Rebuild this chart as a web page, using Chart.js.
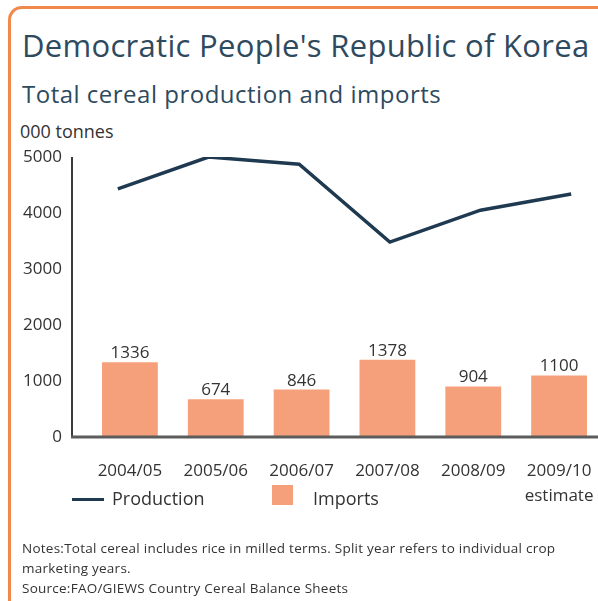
<!DOCTYPE html>
<html>
<head>
<meta charset="utf-8">
<script src="https://cdn.jsdelivr.net/npm/chart.js@4.4.1/dist/chart.umd.min.js"></script>
<style>
  body { margin: 0; width: 598px; height: 601px; overflow: hidden; background: #fff; position: relative; font-family: "Open Sans", sans-serif; color: #333; }
  .abs { position: absolute; white-space: nowrap; }
  #frame { left: 8px; top: 6px; width: 700px; height: 700px; border-left: 3px solid #F08A4B; border-top: 3px solid #F08A4B; border-top-left-radius: 14px; box-sizing: border-box; }
  #title { left: 22px; top: 25px; font-size: 31px; line-height: 40px; letter-spacing: 0.3px; color: #2E4A5E; }
  #subtitle { left: 22px; top: 79px; font-size: 24px; line-height: 30px; letter-spacing: 0.5px; color: #2E4A5E; }
  #unit { left: 20px; top: 120px; font-size: 18px; line-height: 22px; color: #333; }
  #chart { position: absolute; left: 0; top: 0; }
  .leg { font-size: 18px; line-height: 24px; top: 486px; color: #333; }
  #notes { left: 22px; top: 538px; font-size: 13.5px; line-height: 20px; letter-spacing: 0.25px; color: #333; }
</style>
</head>
<body>
<div id="frame" class="abs"></div>
<div id="title" class="abs">Democratic People's Republic of Korea</div>
<div id="subtitle" class="abs">Total cereal production and imports</div>
<div id="unit" class="abs">000 tonnes</div>
<canvas id="chart" width="620" height="601"></canvas>
<div class="abs" style="left:72px;top:498px;width:32px;height:3px;background:#1F3A50"></div>
<div class="abs leg" style="left:112px">Production</div>
<div class="abs" style="left:272px;top:485px;width:21px;height:20px;background:#F5A07A"></div>
<div class="abs leg" style="left:313px">Imports</div>
<div id="notes" class="abs">Notes:Total cereal includes rice in milled terms. Split year refers to individual crop<br>marketing years.<br>Source:FAO/GIEWS Country Cereal Balance Sheets</div>
<script>
const categories = ['2004/05', '2005/06', '2006/07', '2007/08', '2008/09', ['2009/10', 'estimate']];
const production = [4430, 5000, 4870, 3480, 4050, 4340];
const imports = [1336, 674, 846, 1378, 904, 1100];
const yTicks = [0, 1000, 2000, 3000, 4000, 5000];

const lineColor = '#1F3A50';
const barColor = '#F5A07A';

// axis lines sit a bit left of the plot, like the original
const axisLines = {
  id: 'axisLines',
  afterDatasetsDraw(chart) {
    const { ctx, chartArea: a } = chart;
    const x0 = a.left - 15;
    ctx.save();
    ctx.strokeStyle = '#3a3a3a';
    ctx.lineWidth = 2;
    ctx.beginPath();
    ctx.moveTo(x0, a.top);
    ctx.lineTo(x0, a.bottom);
    ctx.stroke();
    ctx.strokeStyle = '#5c5c5c';
    ctx.lineWidth = 3;
    ctx.beginPath();
    ctx.moveTo(x0 - 1, a.bottom);
    ctx.lineTo(a.right, a.bottom);
    ctx.stroke();
    ctx.restore();
  }
};

const barValues = {
  id: 'barValues',
  afterDatasetsDraw(chart) {
    const { ctx } = chart;
    const meta = chart.getDatasetMeta(0);
    ctx.save();
    ctx.font = '17px "Open Sans"';
    ctx.fillStyle = '#333';
    ctx.textAlign = 'center';
    ctx.textBaseline = 'alphabetic';
    meta.data.forEach((bar, i) => {
      ctx.fillText(String(imports[i]), bar.x, bar.y - 4);
    });
    ctx.restore();
  }
};

new Chart(document.getElementById('chart'), {
  type: 'bar',
  data: {
    labels: categories,
    datasets: [
      {
        label: 'Imports',
        data: imports,
        backgroundColor: barColor,
        barPercentage: 0.65,
        categoryPercentage: 1,
        grouped: false,
        xAxisID: 'x',
        order: 2
      },
      {
        type: 'line',
        label: 'Production',
        data: production.map((v, i) => ({ x: i, y: v })),
        borderColor: lineColor,
        borderWidth: 3.5,
        pointRadius: 0,
        tension: 0,
        xAxisID: 'xl',
        order: 1
      }
    ]
  },
  options: {
    responsive: false,
    animation: false,
    devicePixelRatio: 1,
    layout: { padding: { top: 157, bottom: 84, left: 0, right: 18 } },
    plugins: { legend: { display: false }, tooltip: { enabled: false } },
    scales: {
      x: {
        type: 'category',
        offset: true,
        grid: { display: false },
        border: { display: false },
        ticks: {
          font: { family: 'Open Sans', size: 17, lineHeight: 1.45 },
          color: '#333',
          padding: 14,
          maxRotation: 0,
          autoSkip: false
        },
        afterFit: s => { s.height = 80; }
      },
      xl: {
        type: 'linear',
        display: false,
        offset: false,
        grid: { offset: false },
        min: -0.34,
        max: 5.34
      },
      y: {
        min: 0,
        max: 5000,
        afterBuildTicks: s => { s.ticks = yTicks.map(v => ({ value: v })); },
        grid: { display: false },
        border: { display: false },
        ticks: {
          font: { family: 'Open Sans', size: 17 },
          color: '#333',
          padding: 17,
          callback: v => String(v)
        },
        afterFit: s => { s.width = 87; }
      }
    }
  },
  plugins: [axisLines, barValues]
});
</script>
</body>
</html>
